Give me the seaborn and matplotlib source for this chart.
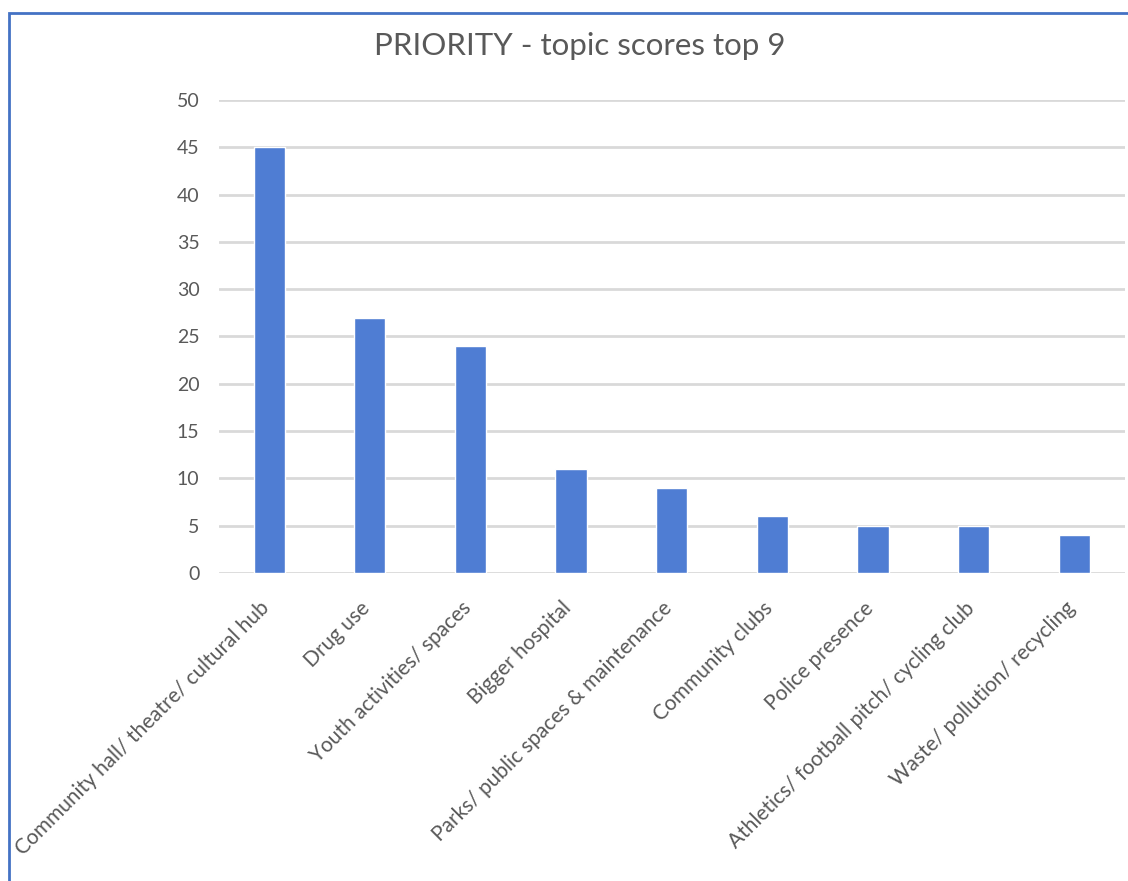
import seaborn as sns
import matplotlib.pyplot as plt
import matplotlib.transforms as mtransforms
import pandas as pd
from matplotlib.patches import Rectangle

# Topic scores
topics = [
    'Community hall/ theatre/ cultural hub',
    'Drug use',
    'Youth activities/ spaces',
    'Bigger hospital',
    'Parks/ public spaces & maintenance',
    'Community clubs',
    'Police presence',
    'Athletics/ football pitch/ cycling club',
    'Waste/ pollution/ recycling',
]
scores = [45, 27, 24, 11, 9, 6, 5, 5, 4]
y_ticks = [0, 5, 10, 15, 20, 25, 30, 35, 40, 45, 50]

df = pd.DataFrame({'Topic': topics, 'Score': scores})

sns.set_style('white')
plt.rcParams['font.family'] = ['Lato', 'DejaVu Sans']

text_grey = '#595959'
bar_blue = '#4F7DD3'

fig = plt.figure(figsize=(11.28, 8.81), dpi=100)
ax = fig.add_axes([0.194, 0.3496, 0.803, 0.5369])

sns.barplot(data=df, x='Topic', y='Score', color=bar_blue, width=0.31,
            saturation=1, ax=ax, zorder=3)

ax.set_ylim(0, 50)
ax.set_xlim(-0.5, len(topics) - 0.5)
ax.set_yticks(y_ticks)
ax.yaxis.grid(True, color='#D9D9D9', linewidth=2, zorder=0)
ax.set_axisbelow(True)
for side in ['top', 'right', 'left', 'bottom']:
    ax.spines[side].set_visible(False)

ax.set_xlabel('')
ax.set_ylabel('')
ax.tick_params(axis='y', length=0, pad=14, labelsize=14, labelcolor=text_grey)
ax.tick_params(axis='x', length=0, pad=18, labelsize=15, labelcolor=text_grey)
ax.set_xticks(range(len(topics)))
ax.set_xticklabels(topics, rotation=45, ha='right', va='top', rotation_mode='anchor')

# nudge the slanted labels a little left so their ends sit under the bars
shift = mtransforms.ScaledTranslation(-7 / 72, 0, fig.dpi_scale_trans)
for lbl in ax.get_xticklabels():
    lbl.set_transform(lbl.get_transform() + shift)

fig.text(0.514, 0.948, 'PRIORITY - topic scores top 9', ha='center', va='center',
         fontsize=22.5, color=text_grey)

# Chart frame (cropped at right and bottom in the source)
fig.patches.append(Rectangle((0.008, -0.1), 1.2, 1.085, transform=fig.transFigure,
                             fill=False, edgecolor='#4472C4', linewidth=2))

plt.savefig('out.png', dpi=100)
plt.close()
